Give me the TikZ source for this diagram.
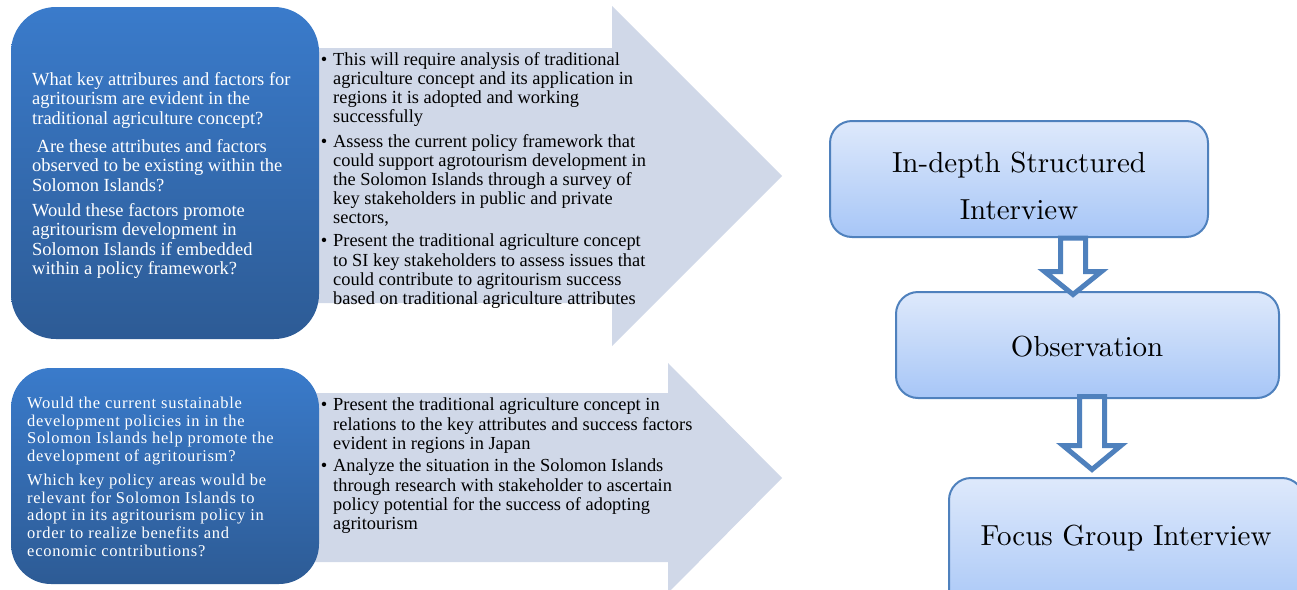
\documentclass[tikz,border=0pt]{standalone}
\usepackage{fontspec}
\newfontfamily\tnr{Liberation Serif}
\newfontfamily\tnrwide{Liberation Serif}[LetterSpace=4.5]
\newfontfamily\lmten{lmroman10-regular.otf}
\usetikzlibrary{calc}
\definecolor{qtop}{HTML}{3A7BCB}
\definecolor{qbot}{HTML}{2D5B95}
\definecolor{arrfill}{HTML}{D0D8E8}
\definecolor{btop}{HTML}{DEE9FB}
\definecolor{bbot}{HTML}{A7C6F7}
\definecolor{bborder}{HTML}{4F81BD}
\tikzset{
  bigarrow/.style={fill=arrfill, draw=none},
  qbox/.style={rectangle, top color=qtop, bottom color=qbot, draw=none, inner sep=0pt},
  qtext/.style={anchor=north west, inner sep=0pt, align=left, text=white, font=\tnr\fontsize{18.5}{19.5}\selectfont},
  qtextsmall/.style={anchor=north west, inner sep=0pt, align=left, text=white, font=\tnrwide\fontsize{16.5}{17.6}\selectfont},
  btext/.style={anchor=north west, inner sep=0pt, align=left, text=black, font=\tnr\fontsize{18.4}{19.2}\selectfont},
  mbox/.style={rectangle, rounded corners=22pt, draw=bborder, line width=2pt, top color=btop, bottom color=bbot, inner sep=0pt},
  mtext/.style={inner sep=0pt, align=center, font=\lmten\fontsize{29}{47}\selectfont},
  hollow/.style={draw=bborder, line width=5pt, fill=white, line join=miter},
}
\newcommand{\bul}{\llap{\textbullet\hspace{6pt}}}
\begin{document}
\begin{tikzpicture}[x=1pt,y=-1pt]
\useasboundingbox (0,0) rectangle (1297,589);
\clip (0,0) rectangle (1297,589);
\fill[white] (0,0) rectangle (1297,589);

% big grey arrows
\path[bigarrow] (300,48) -- (612,48) -- (612,6) -- (782,176) -- (612,346) -- (612,303) -- (300,303) -- cycle;
\path[bigarrow] (300,393) -- (668,393) -- (668,363) -- (782,478) -- (668,593) -- (668,562) -- (300,562) -- cycle;

% question boxes
\node[qbox, rounded corners=45pt, minimum width=308pt, minimum height=332pt] (q1) at (165,173) {};
\node[qbox, rounded corners=40pt, minimum width=308pt, minimum height=216pt] (q2) at (165,476) {};

\node[qtext] (q1a) at (32,72) {What key attribures and factors for\\agritourism are evident in the\\traditional agriculture concept?};
\node[qtext] (q1b) at (32,139) {\hspace*{4.5pt}Are these attributes and factors\\observed to be existing within the\\Solomon Islands?};
\node[qtext] (q1c) at (32,203) {Would these factors promote\\agritourism development in\\Solomon Islands if embedded\\within a policy framework?};

\node[qtextsmall] (q2a) at (27,397) {Would the current sustainable\\development policies in in the\\Solomon Islands help promote the\\development of agritourism?};
\node[qtextsmall] (q2b) at (27,474) {Which key policy areas would be\\relevant for Solomon Islands to\\adopt in its agritourism policy in\\order to realize benefits and\\economic contributions?};

% bullet texts
\node[btext] (t1) at (333,52) {\bul This will require analysis of traditional\\agriculture concept and its application in\\regions it is adopted and working\\successfully};
\node[btext] (t2) at (333,134) {\bul Assess the current policy framework that\\could support agrotourism development in\\the Solomon Islands through a survey of\\key stakeholders in public and private\\sectors,};
\node[btext] (t3) at (333,234) {\bul Present the traditional agriculture concept\\to SI key stakeholders to assess issues that\\could contribute to agritourism success\\based on traditional agriculture attributes};

\node[btext] (u1) at (333,398) {\bul Present the traditional agriculture concept in\\relations to the key attributes and success factors\\evident in regions in Japan};
\node[btext] (u2) at (333,459) {\bul Analyze the situation in the Solomon Islands\\through research with stakeholder to ascertain\\policy potential for the success of adopting\\agritourism};

% method boxes
\node[mbox, minimum width=378pt, minimum height=116pt] (b1) at (1019,179) {};
\node[mbox, minimum width=383pt, minimum height=106pt] (b2) at (1087.5,345) {};
\node[mbox, minimum width=355pt, minimum height=137pt] (b3) at (1126.5,546.5) {};

\node[mtext, anchor=north] (b1t) at (1019,152) {In-depth Structured\\Interview};
\node[mtext, anchor=base] (b2t) at (1087,356) {Observation};
\node[mtext, anchor=base] (b3t) at (1126,545) {Focus Group Interview};

% hollow arrows
\coordinate (a1) at ($(b1.south)+(54,0)$);
\coordinate (a2) at ($(b2.south)+(4.5,-2.5)$);
\draw[hollow, shift={(a1)}] (-12.5,0) -- (-12.5,33.5) -- (-28.5,33.5) -- (0,56.5) -- (28.5,33.5) -- (12.5,33.5) -- (12.5,0) -- cycle;
\draw[hollow, shift={(a2)}] (-12.5,0) -- (-12.5,49) -- (-29,49) -- (0,73) -- (29,49) -- (12.5,49) -- (12.5,0) -- cycle;
\end{tikzpicture}
\end{document}
